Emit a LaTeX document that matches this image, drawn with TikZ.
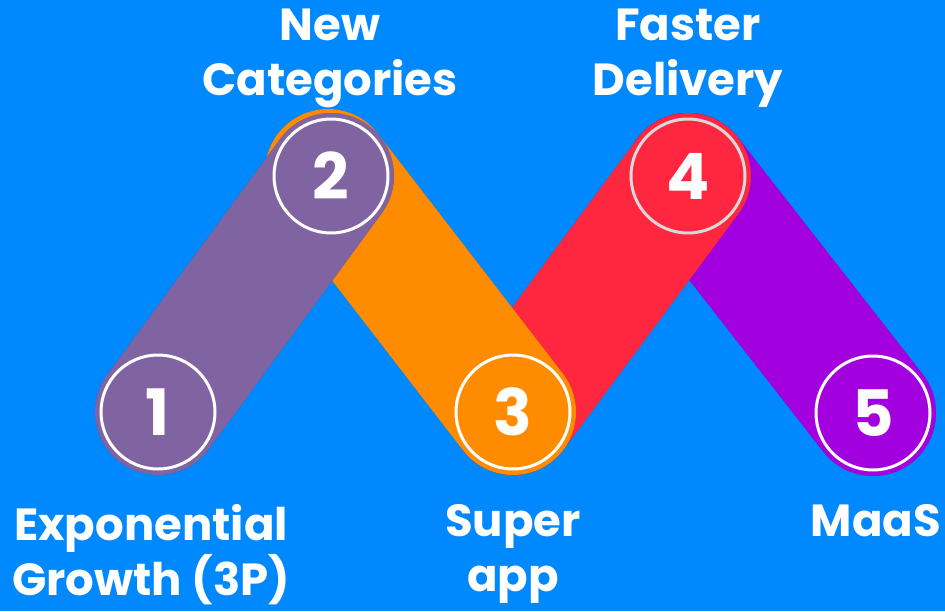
\documentclass[tikz,border=0pt]{standalone}
\usepackage{fontspec}
\setmainfont{Poppins}
\usetikzlibrary{calc}

\definecolor{skyblue}{RGB}{0,136,255}
\definecolor{lavender}{RGB}{128,100,162}
\definecolor{tangerine}{RGB}{255,140,0}
\definecolor{crimson}{RGB}{255,38,64}
\definecolor{violet}{RGB}{163,0,224}

\pgfdeclarelayer{back}
\pgfsetlayers{back,main}

\tikzset{
    band/.style={line width=126pt, line cap=round},
    bandshadow/.style={band, draw=black, opacity=0.28, shift={(4,5)}},
    ring/.style={circle, draw=white, line width=3pt, minimum size=114pt, inner sep=0pt,
        text=white, font=\fontsize{64}{64}\selectfont\bfseries},
    stagetext/.style={text=white, align=center, inner sep=0pt, anchor=north,
        font=\fontsize{45}{55}\selectfont\bfseries}
}

\begin{document}
\begin{tikzpicture}[x=1pt, y=-1pt]
    % Numbered rings
    \node[ring] (n1) at (158, 412) {1};
    \node[ring] (n2) at (331, 176) {2};
    \node[ring] (n3) at (513, 412) {3};
    \node[ring, draw=white!85!black] (n4) at (688, 176) {4};
    \node[ring] (n5) at (873, 413) {5};

    % Stage names
    \node[stagetext] (t2) at (330, 9) {New\\Categories};
    \node[stagetext] (t4) at (688, 9) {Faster\\Delivery};
    \node[stagetext] (t1) at (151, 504) {Exponential\\Growth (3P)};
    \node[stagetext] (t3) at (513, 504) {Super\\app};
    \node[stagetext] (t5) at (876, 504) {MaaS};

    % Bands behind the rings, last one on top
    \begin{pgfonlayer}{back}
        \fill[skyblue] (0, 0) rectangle (945, 611);

        \draw[bandshadow] (n4.center) -- (n5.center);
        \draw[band, violet] (n4.center) -- (n5.center);

        \draw[bandshadow] (n3.center) -- (n4.center);
        \draw[band, crimson] (n3.center) -- (n4.center);

        \draw[bandshadow] ($(n2.center)+(-3,-4)$) -- (n3.center);
        \draw[band, tangerine] ($(n2.center)+(-3,-4)$) -- (n3.center);

        \draw[bandshadow] (n1.center) -- (n2.center);
        \draw[band, lavender] (n1.center) -- (n2.center);
    \end{pgfonlayer}
\end{tikzpicture}
\end{document}
